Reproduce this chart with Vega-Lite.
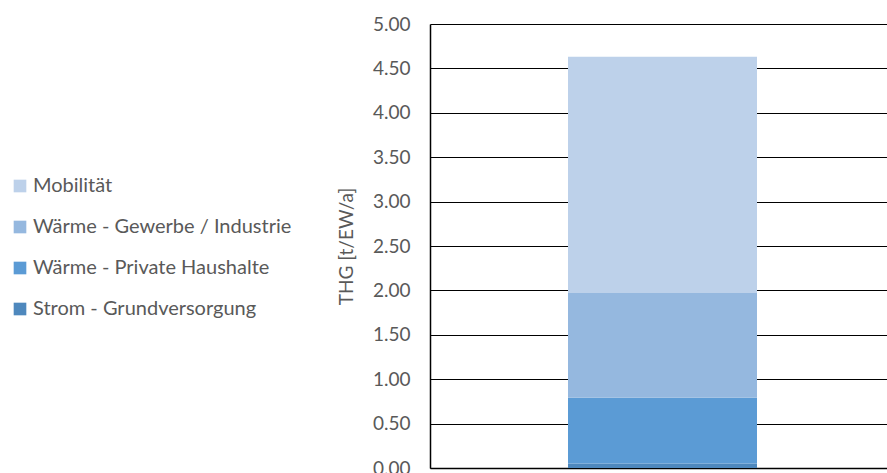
{
  "$schema": "https://vega.github.io/schema/vega-lite/v6.json",
  "autosize": {"type": "none"},
  "padding": {"left": 430, "top": 24, "right": 0, "bottom": 5},
  "width": 457,
  "height": 444,
  "background": "white",
  "config": {
    "font": "Lato",
    "view": {"stroke": null}
  },
  "data": {
    "values": [
      {"cat": "A", "sector": "Strom - Grundversorgung", "value": 0.05, "ord": 1},
      {"cat": "A", "sector": "Wärme - Private Haushalte", "value": 0.74, "ord": 2},
      {"cat": "A", "sector": "Wärme - Gewerbe / Industrie", "value": 1.18, "ord": 3},
      {"cat": "A", "sector": "Mobilität", "value": 2.66, "ord": 4}
    ]
  },
  "mark": {"type": "bar", "width": 189, "xOffset": 4},
  "encoding": {
    "x": {
      "field": "cat",
      "type": "nominal",
      "axis": {"labels": false, "ticks": false, "title": null, "domainColor": "black", "domainWidth": 1.5},
      "scale": {"paddingInner": 0, "paddingOuter": 0}
    },
    "y": {
      "field": "value",
      "type": "quantitative",
      "stack": "zero",
      "scale": {"domain": [0, 5], "nice": false},
      "axis": {
        "values": [0, 0.5, 1, 1.5, 2, 2.5, 3, 3.5, 4, 4.5, 5],
        "format": ".2f",
        "title": "THG [t/EW/a]",
        "titleFontSize": 19,
        "titleFontWeight": "normal",
        "titleColor": "#595959",
        "titlePadding": 16,
        "labelFontSize": 19,
        "labelColor": "#595959",
        "labelPadding": 20,
        "ticks": false,
        "domainColor": "black",
        "domainWidth": 1.5,
        "grid": true,
        "gridColor": "black",
        "gridWidth": 1
      }
    },
    "color": {
      "field": "sector",
      "type": "nominal",
      "sort": ["Mobilität", "Wärme - Gewerbe / Industrie", "Wärme - Private Haushalte", "Strom - Grundversorgung"],
      "scale": {
        "domain": ["Mobilität", "Wärme - Gewerbe / Industrie", "Wärme - Private Haushalte", "Strom - Grundversorgung"],
        "range": ["#BDD1EA", "#95B8DF", "#5B9BD5", "#4E88BD"]
      },
      "legend": {
        "orient": "none",
        "legendX": -420,
        "legendY": 152,
        "title": null,
        "symbolType": "square",
        "symbolSize": 160,
        "symbolStrokeWidth": 0,
        "labelFontSize": 20,
        "labelColor": "#595959",
        "labelOffset": 3,
        "labelLimit": 0,
        "rowPadding": 21
      }
    },
    "order": {"field": "ord", "type": "quantitative"}
  }
}
